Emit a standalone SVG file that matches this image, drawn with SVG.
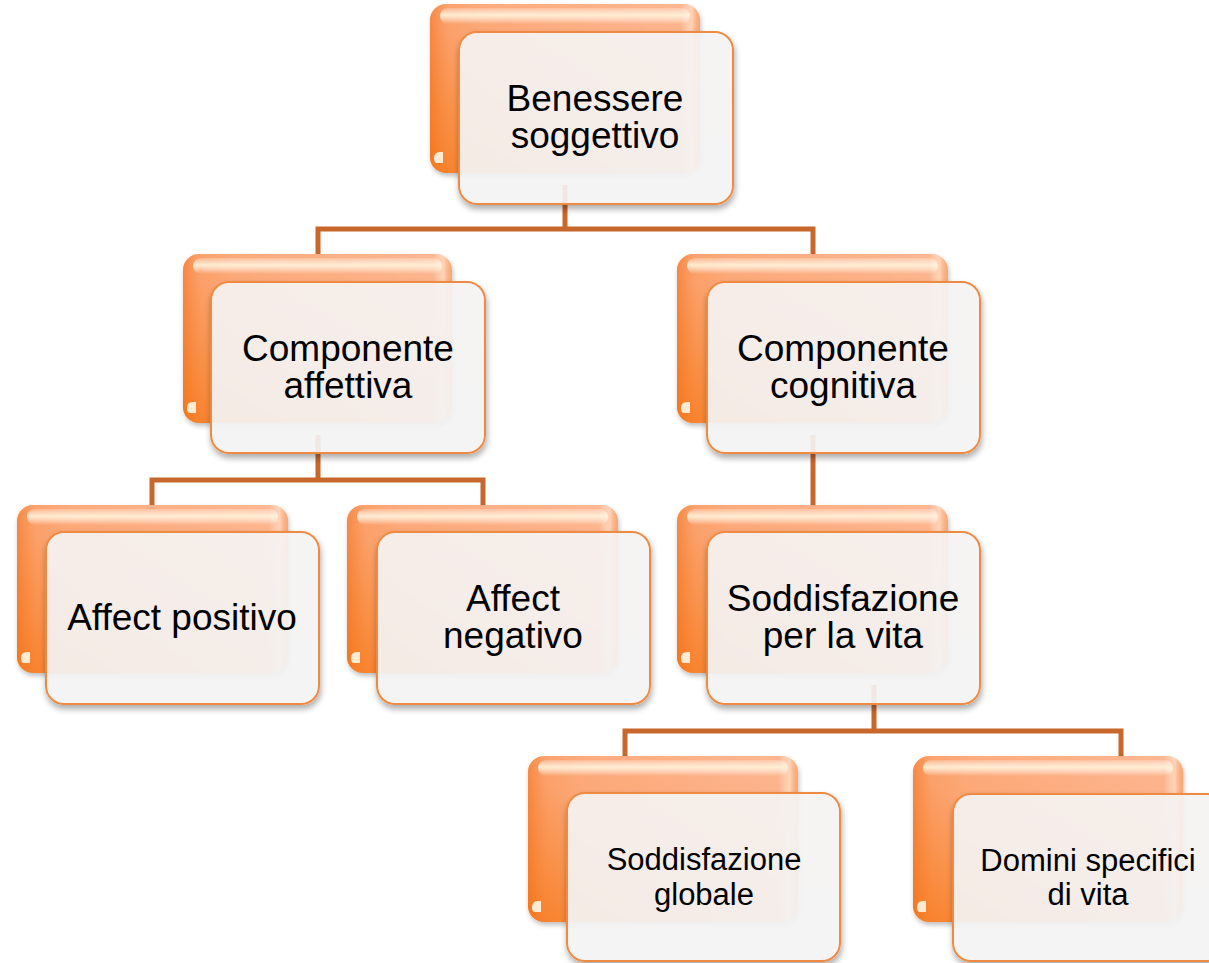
<svg xmlns="http://www.w3.org/2000/svg" width="1209" height="963" viewBox="0 0 1209 963">
<defs>
<linearGradient id="backGrad" x1="1" y1="0" x2="0" y2="1">
<stop offset="0" stop-color="#FDB894"/>
<stop offset="0.55" stop-color="#FCA674"/>
<stop offset="1" stop-color="#F88128"/>
</linearGradient>
<linearGradient id="edgeGrad" x1="0" y1="0" x2="1" y2="0">
<stop offset="0" stop-color="#F06A10" stop-opacity="0.5"/>
<stop offset="0.07" stop-color="#F58030" stop-opacity="0.15"/>
<stop offset="0.2" stop-color="#F58030" stop-opacity="0"/>
<stop offset="0.93" stop-color="#FFFFFF" stop-opacity="0"/>
<stop offset="0.97" stop-color="#FFE6D0" stop-opacity="0.6"/>
<stop offset="1" stop-color="#F58030" stop-opacity="0.3"/>
</linearGradient>
<linearGradient id="gloss" x1="0" y1="0" x2="0" y2="1">
<stop offset="0" stop-color="#FFFFFF" stop-opacity="0.2"/>
<stop offset="0.45" stop-color="#FFF4DC" stop-opacity="0.9"/>
<stop offset="1" stop-color="#FFFFFF" stop-opacity="0"/>
</linearGradient>
<linearGradient id="frontGrad" x1="0" y1="0" x2="0" y2="1">
<stop offset="0" stop-color="#F5F3F2"/>
<stop offset="1" stop-color="#F3F3F3"/>
</linearGradient>
<filter id="sh" x="-10%" y="-10%" width="130%" height="130%">
<feGaussianBlur in="SourceAlpha" stdDeviation="3" result="b"/>
<feOffset in="b" dx="1" dy="4" result="o"/>
<feComponentTransfer in="o" result="s"><feFuncA type="linear" slope="0.35"/></feComponentTransfer>
<feComposite in="s" in2="SourceAlpha" operator="out" result="so"/>
<feMerge><feMergeNode in="so"/><feMergeNode in="SourceGraphic"/></feMerge>
</filter>
<filter id="bsh" x="-10%" y="-10%" width="130%" height="130%">
<feGaussianBlur in="SourceAlpha" stdDeviation="2.5" result="b"/>
<feOffset in="b" dx="1" dy="3" result="o"/>
<feComponentTransfer in="o" result="s"><feFuncA type="linear" slope="0.25"/></feComponentTransfer>
<feMerge><feMergeNode in="s"/><feMergeNode in="SourceGraphic"/></feMerge>
</filter>
</defs>
<style>
.back{fill:url(#backGrad);}
.edge{fill:url(#edgeGrad);}
.gl{fill:url(#gloss);}
.hl{fill:#FFF6E6;opacity:0.9;}
.front{fill:url(#frontGrad);fill-opacity:0.92;stroke:#EE8A42;stroke-width:2;}
.conn{fill:none;stroke:#C8672C;stroke-width:5;stroke-linejoin:miter;}
.t{font-family:"Liberation Sans",Arial,sans-serif;font-size:37px;fill:#000;text-anchor:middle;}
.t4{font-family:"Liberation Sans",Arial,sans-serif;font-size:31px;fill:#000;text-anchor:middle;}
</style>
<rect width="1209" height="963" fill="#FFFFFF"/>
<g id="connectors">
<path class="conn" d="M318,256 V229 H813 V256 M565,229 V185"/>
<path class="conn" d="M152,507 V480 H483 V507 M318,480 V435"/>
<path class="conn" d="M813,435 V507"/>
<path class="conn" d="M625,758 V731 H1121 V758 M874,731 V685"/>
</g>
<g id="node-benessere">
<g filter="url(#bsh)"><rect class="back" x="430" y="4" width="270" height="169" rx="16"/></g>
<rect class="edge" x="430" y="4" width="270" height="169" rx="16"/>
<rect class="gl" x="440" y="8" width="250" height="16" rx="8"/>
<path class="hl" d="M434,158 q0,-6 6,-6 h3 v11 h-6 q-3,0 -3,-5z"/>
<rect class="front" x="459" y="32" width="274" height="172" rx="18" filter="url(#sh)"/>
<text class="t" x="595" y="111">Benessere</text>
<text class="t" x="595" y="148">soggettivo</text>
</g>
<g id="node-affettiva">
<g filter="url(#bsh)"><rect class="back" x="183" y="254" width="269" height="169" rx="16"/></g>
<rect class="edge" x="183" y="254" width="269" height="169" rx="16"/>
<rect class="gl" x="193" y="258" width="249" height="16" rx="8"/>
<path class="hl" d="M187,408 q0,-6 6,-6 h3 v11 h-6 q-3,0 -3,-5z"/>
<rect class="front" x="211" y="282" width="274" height="171" rx="18" filter="url(#sh)"/>
<text class="t" x="348" y="361">Componente</text>
<text class="t" x="348" y="398">affettiva</text>
</g>
<g id="node-cognitiva">
<g filter="url(#bsh)"><rect class="back" x="677" y="254" width="271" height="169" rx="16"/></g>
<rect class="edge" x="677" y="254" width="271" height="169" rx="16"/>
<rect class="gl" x="687" y="258" width="251" height="16" rx="8"/>
<path class="hl" d="M681,408 q0,-6 6,-6 h3 v11 h-6 q-3,0 -3,-5z"/>
<rect class="front" x="707" y="282" width="273" height="171" rx="18" filter="url(#sh)"/>
<text class="t" x="843" y="361">Componente</text>
<text class="t" x="843" y="398">cognitiva</text>
</g>
<g id="node-affect-positivo">
<g filter="url(#bsh)"><rect class="back" x="17" y="505" width="271" height="168" rx="16"/></g>
<rect class="edge" x="17" y="505" width="271" height="168" rx="16"/>
<rect class="gl" x="27" y="509" width="251" height="16" rx="8"/>
<path class="hl" d="M21,658 q0,-6 6,-6 h3 v11 h-6 q-3,0 -3,-5z"/>
<rect class="front" x="46" y="532" width="273" height="172" rx="18" filter="url(#sh)"/>
<text class="t" x="182" y="630">Affect positivo</text>
</g>
<g id="node-affect-negativo">
<g filter="url(#bsh)"><rect class="back" x="347" y="505" width="271" height="168" rx="16"/></g>
<rect class="edge" x="347" y="505" width="271" height="168" rx="16"/>
<rect class="gl" x="357" y="509" width="251" height="16" rx="8"/>
<path class="hl" d="M351,658 q0,-6 6,-6 h3 v11 h-6 q-3,0 -3,-5z"/>
<rect class="front" x="377" y="532" width="273" height="172" rx="18" filter="url(#sh)"/>
<text class="t" x="513" y="611">Affect</text>
<text class="t" x="513" y="648">negativo</text>
</g>
<g id="node-soddisfazione-vita">
<g filter="url(#bsh)"><rect class="back" x="677" y="505" width="271" height="168" rx="16"/></g>
<rect class="edge" x="677" y="505" width="271" height="168" rx="16"/>
<rect class="gl" x="687" y="509" width="251" height="16" rx="8"/>
<path class="hl" d="M681,658 q0,-6 6,-6 h3 v11 h-6 q-3,0 -3,-5z"/>
<rect class="front" x="707" y="532" width="273" height="172" rx="18" filter="url(#sh)"/>
<text class="t" x="843" y="611">Soddisfazione</text>
<text class="t" x="843" y="648">per la vita</text>
</g>
<g id="node-soddisfazione-globale">
<g filter="url(#bsh)"><rect class="back" x="528" y="756" width="270" height="166" rx="16"/></g>
<rect class="edge" x="528" y="756" width="270" height="166" rx="16"/>
<rect class="gl" x="538" y="760" width="250" height="16" rx="8"/>
<path class="hl" d="M532,907 q0,-6 6,-6 h3 v11 h-6 q-3,0 -3,-5z"/>
<rect class="front" x="567" y="793" width="273" height="168" rx="18" filter="url(#sh)"/>
<text class="t4" x="704" y="870">Soddisfazione</text>
<text class="t4" x="704" y="905">globale</text>
</g>
<g id="node-domini">
<g filter="url(#bsh)"><rect class="back" x="913" y="756" width="270" height="166" rx="16"/></g>
<rect class="edge" x="913" y="756" width="270" height="166" rx="16"/>
<rect class="gl" x="923" y="760" width="250" height="16" rx="8"/>
<path class="hl" d="M917,907 q0,-6 6,-6 h3 v11 h-6 q-3,0 -3,-5z"/>
<rect class="front" x="953" y="794" width="273" height="167" rx="18" filter="url(#sh)"/>
<text class="t4" x="1088" y="871">Domini specifici</text>
<text class="t4" x="1088" y="905">di vita</text>
</g>
</svg>
